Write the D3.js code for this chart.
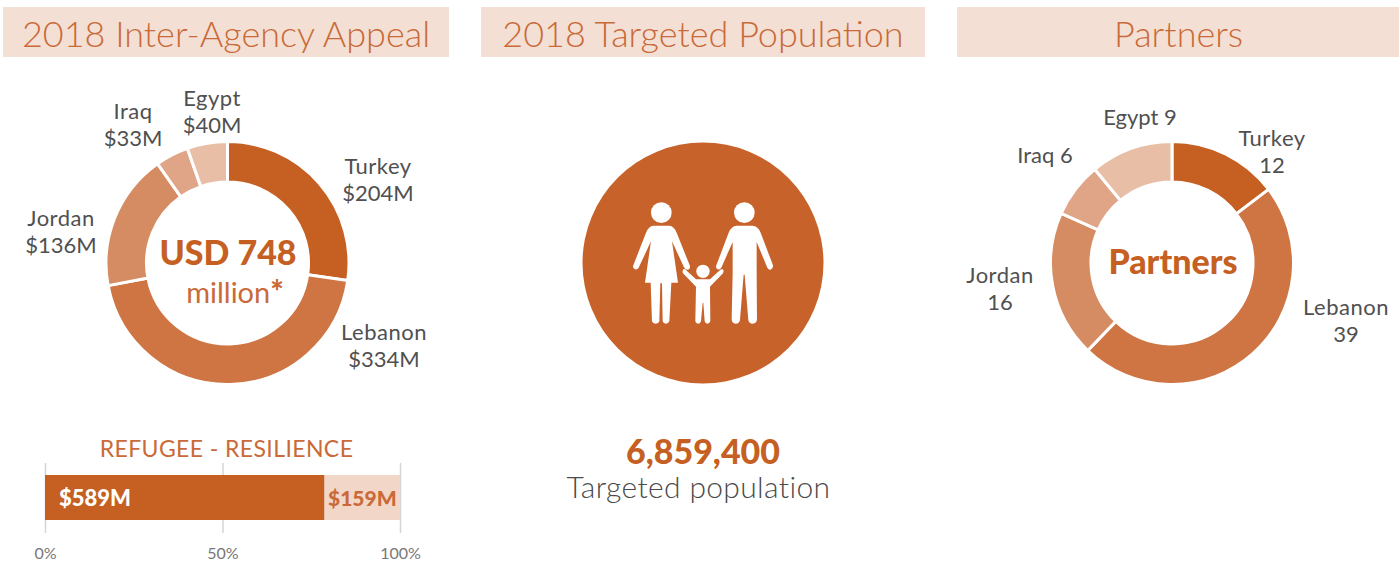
<!DOCTYPE html>
<html lang="en">
<head>
  <meta charset="UTF-8">
  <title>2018 Inter-Agency Appeal</title>
  <style>
    body { margin: 0; padding: 0; background: #fff; }
    svg { display: block; }
    text { font-family: Lato, "Open Sans", sans-serif; }
    .band-title { font-size: 36px; font-weight: 300; fill: #c96a38; text-anchor: middle; }
    .donut-label { font-size: 22px; fill: #505050; text-anchor: middle; }
    .country { letter-spacing: 0.5px; }
    .tick text { font-family: Lato, sans-serif; font-size: 16px; fill: #777; }
  </style>
  <script src="https://d3js.org/d3.v7.min.js"></script>
</head>
<body>
  <div id="chart"></div>

  <script>
    // chart values
    const titles = ["2018 Inter-Agency Appeal", "2018 Targeted Population", "Partners"];
    const countries = ["Turkey", "Lebanon", "Jordan", "Iraq", "Egypt"];
    const appealValues = [204, 334, 136, 33, 40];
    const partnerValues = [12, 39, 16, 6, 9];
    const sliceColors = ["#c55f22", "#cf7443", "#d68c63", "#e0a586", "#e9bea6"];
    const splitNames = ["Refugee", "Resilience"];
    const splitValues = [589, 159];
    const percentTicks = [0, 50, 100];
    const targetedPopulation = 6859400;

    const width = 1399;
    const height = 562;
    const orange = "#c55f22";
    const titleOrange = "#c96a38";

    const svg = d3.select("#chart")
      .append("svg")
      .attr("width", width)
      .attr("height", height);

    // title bands
    const bands = [[3, 446], [481, 444], [957, 443]];
    titles.forEach((t, i) => {
      svg.append("rect")
        .attr("x", bands[i][0])
        .attr("y", 7)
        .attr("width", bands[i][1])
        .attr("height", 50)
        .attr("fill", "#f4dfd4");
      svg.append("text")
        .attr("class", "band-title")
        .attr("x", bands[i][0] + bands[i][1] / 2)
        .attr("y", 47)
        .text(t);
    });

    function drawDonut(cx, cy, values) {
      const pie = d3.pie().sort(null)(values);
      const arc = d3.arc().innerRadius(81).outerRadius(121.5);
      const g = svg.append("g").attr("transform", `translate(${cx},${cy})`);
      g.selectAll("path")
        .data(pie)
        .enter()
        .append("path")
        .attr("d", arc)
        .attr("fill", (d, i) => sliceColors[i])
        .attr("stroke", "#fff")
        .attr("stroke-width", 3);
    }

    function twoLineLabel(x, y, a, b) {
      const t = svg.append("text").attr("class", "donut-label").attr("x", x).attr("y", y);
      t.append("tspan").attr("class", "country").attr("x", x).text(a);
      t.append("tspan").attr("x", x).attr("dy", 27).text(b);
    }

    // appeal donut
    drawDonut(227.5, 263, appealValues);
    const appealLabelPos = [[378, 174], [384, 340], [61, 226], [133, 119], [212, 106]];
    countries.forEach((c, i) => {
      twoLineLabel(appealLabelPos[i][0], appealLabelPos[i][1], c, `$${appealValues[i]}M`);
    });

    svg.append("text")
      .attr("x", 228)
      .attr("y", 265)
      .attr("text-anchor", "middle")
      .attr("font-size", 34)
      .attr("font-weight", 900)
      .attr("fill", orange)
      .text("USD 748");
    const million = svg.append("text")
      .attr("x", 235)
      .attr("y", 303)
      .attr("text-anchor", "middle")
      .attr("font-size", 29)
      .attr("fill", titleOrange)
      .text("million");
    million.append("tspan").attr("font-weight", 900).attr("font-size", 32).text("*");

    // refugee / resilience bar
    const x = d3.scaleLinear().domain([0, 100]).range([45, 400]);
    const total = d3.sum(splitValues);

    svg.append("text")
      .attr("x", 226.5)
      .attr("y", 457)
      .attr("text-anchor", "middle")
      .attr("font-size", 23)
      .attr("letter-spacing", 0.4)
      .attr("fill", titleOrange)
      .text("REFUGEE - RESILIENCE");

    const axis = svg.append("g")
      .attr("transform", "translate(0,533)")
      .call(d3.axisBottom(x)
        .tickValues(percentTicks)
        .tickFormat(d => d + "%")
        .tickSize(-70)
        .tickPadding(15));
    axis.select(".domain").remove();
    axis.selectAll(".tick line").attr("stroke", "#d5d5d5").attr("stroke-width", 1.5);

    let running = 0;
    const segments = splitValues.map((v, i) => {
      const s = { name: splitNames[i], value: v, start: running / total * 100, end: (running + v) / total * 100 };
      running += v;
      return s;
    });

    svg.selectAll(".segment")
      .data(segments)
      .enter()
      .append("rect")
      .attr("class", "segment")
      .attr("x", d => x(d.start))
      .attr("y", 475)
      .attr("width", d => x(d.end) - x(d.start))
      .attr("height", 45)
      .attr("fill", (d, i) => i === 0 ? orange : "#f2d7c9");

    svg.append("text")
      .attr("x", 59)
      .attr("y", 506)
      .attr("font-size", 22)
      .attr("font-weight", 900)
      .attr("fill", "#fff")
      .text(`$${splitValues[0]}M`);
    svg.append("text")
      .attr("x", 328)
      .attr("y", 506)
      .attr("font-size", 21)
      .attr("font-weight", 900)
      .attr("fill", titleOrange)
      .text(`$${splitValues[1]}M`);

    // targeted population circle with family icon
    svg.append("circle")
      .attr("cx", 703)
      .attr("cy", 263)
      .attr("r", 120.5)
      .attr("fill", "#c8622b");

    const icon = svg.append("g")
      .attr("transform", "translate(600,180) scale(0.3333)")
      .attr("fill", "#fff");
    icon.append("circle").attr("cx", 184).attr("cy", 98).attr("r", 31);
    icon.append("circle").attr("cx", 433).attr("cy", 98).attr("r", 31);
    icon.append("circle").attr("cx", 309).attr("cy", 274).attr("r", 20);
    // woman
    icon.append("path").attr("d", "M160 137 H208 Q222 138 230 158 L270 258 Q271 268 262 269 Q256 269 252 262 L216 184 L234 308 H214 L208 424 Q205 431 198 431 Q190 431 188 424 L186 310 H181 L178 424 Q176 431 167 431 Q158 431 156 424 L152 308 H135 L153 184 L116 263 Q112 270 105 268 Q97 264 100 256 L138 158 Q146 138 160 137 Z");
    // man
    icon.append("path").attr("d", "M410 137 H458 Q474 138 482 158 L519 256 Q520 266 512 269 Q506 270 502 263 L470 186 V280 L471 418 Q470 431 458 431 Q447 431 445 420 L434 284 H431 L420 420 Q418 431 407 431 Q396 431 395 418 L398 280 V186 L364 263 Q360 270 353 268 Q346 264 349 256 L386 158 Q394 138 410 137 Z");
    // child
    icon.append("path").attr("d", "M252 266 Q258 268 260 272 L288 298 H330 L358 272 Q362 266 369 268 Q373 273 369 280 L330 320 L331 424 Q329 431 322 431 Q316 431 314 424 L310 368 H308 L303 424 Q301 431 295 431 Q287 431 286 424 L288 320 L249 280 Q245 272 252 266 Z");

    svg.append("text")
      .attr("x", 703)
      .attr("y", 464)
      .attr("text-anchor", "middle")
      .attr("font-size", 34)
      .attr("font-weight", 900)
      .attr("fill", orange)
      .text(d3.format(",")(targetedPopulation));
    svg.append("text")
      .attr("x", 698.5)
      .attr("y", 498)
      .attr("text-anchor", "middle")
      .attr("font-size", 30)
      .attr("font-weight", 300)
      .attr("letter-spacing", 0.35)
      .attr("fill", "#4a4a4a")
      .text("Targeted population");

    // partners donut
    drawDonut(1172, 263, partnerValues);
    twoLineLabel(1272, 146, countries[0], partnerValues[0]);
    twoLineLabel(1346, 315, countries[1], partnerValues[1]);
    twoLineLabel(1000, 283, countries[2], partnerValues[2]);
    svg.append("text").attr("class", "donut-label").attr("x", 1045).attr("y", 163)
      .text(`${countries[3]} ${partnerValues[3]}`);
    svg.append("text").attr("class", "donut-label").attr("x", 1140).attr("y", 125)
      .text(`${countries[4]} ${partnerValues[4]}`);

    svg.append("text")
      .attr("x", 1173)
      .attr("y", 274)
      .attr("text-anchor", "middle")
      .attr("font-size", 34)
      .attr("font-weight", 900)
      .attr("fill", orange)
      .text("Partners");
  </script>
</body>
</html>
